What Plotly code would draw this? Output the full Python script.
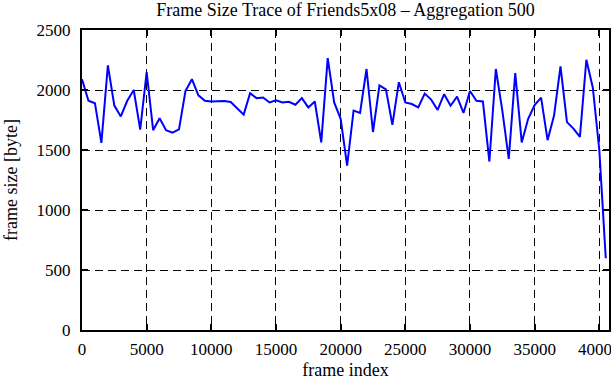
import plotly.graph_objects as go

frame_index = list(range(0, 41000, 500))
frame_size = [
    2090, 1910, 1890, 1560, 2205, 1870, 1780, 1910, 2000, 1670,
    2150, 1665, 1765, 1665, 1645, 1672, 1992, 2090, 1956, 1910,
    1905, 1905, 1908, 1900, 1850, 1795, 1973, 1932, 1937, 1896,
    1915, 1896, 1902, 1877, 1932, 1855, 1904, 1563, 2265, 1896,
    1760, 1370, 1828, 1809, 2175, 1650, 2038, 2005, 1710, 2065,
    1896, 1883, 1855, 1970, 1920, 1834, 1965, 1869, 1945, 1809,
    1992, 1910, 1904, 1404, 2175, 1828, 1426, 2140, 1563, 1760,
    1875, 1937, 1582, 1787, 2197, 1732, 1678, 1609, 2252, 2019,
    1500, 598,
]
x_ticks = list(range(0, 40001, 5000))
y_ticks = list(range(0, 2501, 500))

font = "Liberation Serif, Times New Roman, serif"

fig = go.Figure(go.Scatter(
    x=frame_index, y=frame_size, mode="lines",
    line=dict(color="#0000ff", width=2),
))

axis_common = dict(
    showline=True, linecolor="black", linewidth=2, mirror="ticks",
    ticks="inside", ticklen=6, tickcolor="black", tickwidth=1.5,
    showgrid=True, gridcolor="black", gridwidth=1, griddash="8px,5px",
    zeroline=False, automargin=False, ticklabeloverflow="allow",
    tickfont=dict(family=font, size=17, color="black"),
    title_font=dict(family=font, size=18, color="black"),
)

fig.update_xaxes(range=[0, 40750], tickvals=x_ticks,
                 ticktext=[str(v) for v in x_ticks], ticklabelstandoff=3,
                 title_text="frame index", title_standoff=7, **axis_common)
fig.update_yaxes(range=[0, 2500], tickvals=y_ticks,
                 ticktext=[str(v) for v in y_ticks], ticklabelstandoff=6,
                 title_text="frame size [byte]", title_standoff=14, **axis_common)

fig.update_layout(
    width=611, height=380,
    margin=dict(l=82, r=2, t=30, b=50),
    paper_bgcolor="white", plot_bgcolor="white",
    showlegend=False,
    title=dict(text="Frame Size Trace of Friends5x08 \u2013 Aggregation 500",
               x=0.5, xref="paper", xanchor="center", y=0.99, yanchor="top",
               font=dict(family=font, size=18, color="black")),
)

fig.write_html(
    "out.html",
    config={"displayModeBar": False},
    post_script="document.body.style.margin='0px';"
                "document.body.style.overflow='hidden';",
)
